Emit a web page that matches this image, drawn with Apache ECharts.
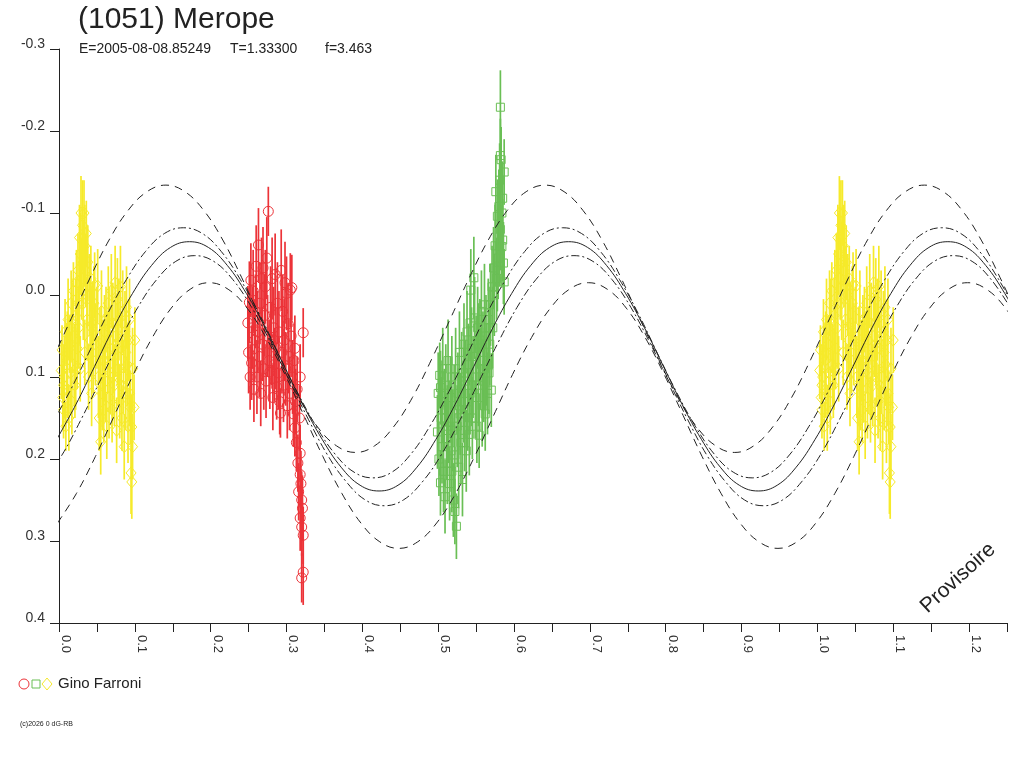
<!DOCTYPE html>
<html>
<head>
<meta charset="utf-8">
<title>(1051) Merope</title>
<script src="https://cdn.jsdelivr.net/npm/echarts@6/dist/echarts.min.js"></script>
<style>
  html, body { margin: 0; padding: 0; background: #fff; }
  #chart { width: 1024px; height: 768px; }
</style>
</head>
<body>
<div id="chart"></div>
<script>
// observations: [phase, magnitude, error]
const redObs = [
  [0.249, 0.034, 0.045], [0.250, 0.070, 0.05], [0.251, 0.009, 0.05], [0.252, 0.100, 0.04],
  [0.253, -0.018, 0.045], [0.254, 0.083, 0.045], [0.255, 0.040, 0.05], [0.256, -0.005, 0.05],
  [0.257, 0.115, 0.04], [0.258, 0.055, 0.05], [0.259, 0.020, 0.045], [0.260, -0.035, 0.05],
  [0.261, 0.100, 0.045], [0.262, 0.045, 0.05], [0.263, -0.061, 0.045], [0.264, 0.075, 0.05],
  [0.265, 0.010, 0.05], [0.266, 0.120, 0.04], [0.267, -0.020, 0.05], [0.268, 0.060, 0.045],
  [0.269, -0.033, 0.05], [0.270, 0.090, 0.05], [0.271, 0.025, 0.05], [0.272, -0.010, 0.045],
  [0.273, 0.105, 0.045], [0.274, -0.045, 0.05], [0.275, 0.050, 0.05], [0.276, -0.102, 0.03],
  [0.277, 0.080, 0.05], [0.278, 0.094, 0.045], [0.279, 0.015, 0.05], [0.280, 0.060, 0.05],
  [0.281, -0.020, 0.05], [0.282, 0.125, 0.04], [0.283, 0.040, 0.05], [0.284, 0.085, 0.045],
  [0.285, -0.025, 0.05], [0.286, 0.065, 0.05], [0.287, 0.112, 0.04], [0.288, 0.010, 0.05],
  [0.289, 0.095, 0.045], [0.290, 0.045, 0.05], [0.291, 0.130, 0.04], [0.292, 0.144, 0.03],
  [0.293, -0.030, 0.05], [0.294, 0.070, 0.05], [0.295, 0.020, 0.045], [0.296, 0.110, 0.045],
  [0.297, 0.055, 0.05], [0.298, -0.015, 0.05], [0.299, 0.090, 0.045], [0.300, -0.002, 0.045],
  [0.301, 0.135, 0.04], [0.302, 0.035, 0.05], [0.303, 0.075, 0.045], [0.304, 0.120, 0.045],
  [0.305, -0.006, 0.045], [0.306, 0.050, 0.05], [0.307, -0.009, 0.04], [0.308, 0.100, 0.045],
  [0.309, 0.145, 0.04], [0.310, 0.080, 0.045], [0.311, 0.065, 0.04], [0.311, 0.162, 0.035],
  [0.312, 0.130, 0.04], [0.313, 0.180, 0.035], [0.314, 0.115, 0.04], [0.315, 0.205, 0.035],
  [0.316, 0.240, 0.035], [0.317, 0.150, 0.04], [0.318, 0.100, 0.04], [0.318, 0.193, 0.035],
  [0.318, 0.219, 0.04], [0.318, 0.272, 0.04], [0.319, 0.230, 0.04], [0.320, 0.250, 0.035],
  [0.320, 0.283, 0.035], [0.320, 0.345, 0.03], [0.321, 0.260, 0.04], [0.322, 0.046, 0.03],
  [0.322, 0.293, 0.035], [0.322, 0.338, 0.04]
];

const greenObs = [
  [0.499, 0.167, 0.045], [0.500, 0.120, 0.05], [0.501, 0.200, 0.045], [0.502, 0.098, 0.04],
  [0.503, 0.113, 0.045], [0.503, 0.229, 0.04], [0.504, 0.150, 0.05], [0.505, 0.185, 0.045],
  [0.506, 0.090, 0.05], [0.507, 0.215, 0.05], [0.508, 0.140, 0.05], [0.509, 0.246, 0.045],
  [0.510, 0.110, 0.05], [0.511, 0.175, 0.05], [0.512, 0.205, 0.05], [0.513, 0.080, 0.05],
  [0.514, 0.155, 0.05], [0.515, 0.230, 0.045], [0.516, 0.125, 0.05], [0.517, 0.190, 0.05],
  [0.518, 0.100, 0.05], [0.519, 0.165, 0.05], [0.520, 0.250, 0.045], [0.521, 0.135, 0.05],
  [0.522, 0.264, 0.04], [0.522, 0.195, 0.05], [0.523, 0.090, 0.05], [0.524, 0.282, 0.04],
  [0.525, 0.160, 0.05], [0.526, 0.120, 0.05], [0.527, 0.210, 0.05], [0.528, 0.070, 0.05],
  [0.529, 0.145, 0.05], [0.530, 0.180, 0.05], [0.531, 0.095, 0.05], [0.532, 0.225, 0.045],
  [0.533, 0.130, 0.05], [0.534, 0.060, 0.05], [0.535, 0.165, 0.05], [0.536, 0.105, 0.05],
  [0.537, 0.190, 0.05], [0.538, 0.045, 0.05], [0.539, 0.140, 0.05], [0.540, 0.085, 0.05],
  [0.541, 0.170, 0.05], [0.542, 0.034, 0.045], [0.542, 0.120, 0.05], [0.543, -0.006, 0.05],
  [0.544, 0.065, 0.05], [0.545, 0.150, 0.05], [0.546, 0.100, 0.05], [0.547, -0.021, 0.05],
  [0.548, 0.028, 0.05], [0.549, 0.125, 0.05], [0.550, 0.075, 0.05], [0.551, 0.160, 0.045],
  [0.552, 0.040, 0.05], [0.553, 0.110, 0.05], [0.554, 0.171, 0.04], [0.555, 0.055, 0.05],
  [0.556, 0.090, 0.05], [0.557, 0.020, 0.05], [0.558, 0.135, 0.05], [0.559, 0.070, 0.05],
  [0.560, 0.105, 0.05], [0.561, 0.012, 0.05], [0.562, 0.145, 0.045], [0.563, 0.050, 0.05],
  [0.564, 0.085, 0.05], [0.565, 0.120, 0.05], [0.566, 0.030, 0.05], [0.567, 0.095, 0.05],
  [0.568, 0.060, 0.05], [0.569, 0.012, 0.05], [0.570, 0.116, 0.045], [0.571, -0.010, 0.05],
  [0.572, 0.040, 0.05], [0.573, -0.033, 0.05], [0.574, 0.000, 0.05], [0.575, -0.060, 0.05],
  [0.576, -0.126, 0.045], [0.577, -0.020, 0.05], [0.578, -0.096, 0.045], [0.579, -0.045, 0.05],
  [0.580, -0.108, 0.045], [0.581, -0.140, 0.045], [0.582, -0.080, 0.05], [0.582, -0.170, 0.045],
  [0.582, -0.229, 0.045], [0.583, -0.165, 0.04], [0.584, -0.059, 0.05], [0.585, -0.118, 0.045],
  [0.585, -0.067, 0.05], [0.586, -0.039, 0.05], [0.587, -0.016, 0.04], [0.587, -0.150, 0.04],
  [0.505, 0.130, 0.05], [0.512, 0.160, 0.05], [0.518, 0.215, 0.05], [0.527, 0.140, 0.05],
  [0.535, 0.100, 0.05], [0.544, 0.110, 0.05], [0.553, 0.060, 0.05], [0.561, 0.090, 0.05],
  [0.567, 0.040, 0.05], [0.578, -0.030, 0.05], [0.584, -0.100, 0.05], [0.581, -0.060, 0.05]
];

const yellowObs = [
  [0.003, 0.092, 0.035], [0.004, 0.067, 0.03], [0.005, 0.125, 0.04], [0.006, 0.140, 0.035],
  [0.007, 0.100, 0.05], [0.008, 0.045, 0.04], [0.009, 0.160, 0.03], [0.010, 0.080, 0.045],
  [0.011, 0.115, 0.035], [0.012, 0.030, 0.05], [0.013, 0.150, 0.04], [0.014, 0.060, 0.035],
  [0.015, 0.095, 0.05], [0.016, 0.010, 0.04], [0.017, 0.130, 0.04], [0.018, 0.050, 0.045],
  [0.019, -0.005, 0.035], [0.020, 0.085, 0.05], [0.021, 0.110, 0.04], [0.022, 0.025, 0.045],
  [0.023, -0.015, 0.04], [0.024, 0.065, 0.05], [0.025, -0.030, 0.045], [0.026, 0.040, 0.05],
  [0.027, -0.070, 0.04], [0.028, -0.050, 0.05], [0.028, 0.090, 0.04], [0.029, -0.100, 0.045],
  [0.030, -0.020, 0.05], [0.031, -0.085, 0.055], [0.032, 0.010, 0.045], [0.033, -0.100, 0.04],
  [0.034, -0.060, 0.05], [0.034, 0.070, 0.04], [0.035, -0.030, 0.045], [0.036, -0.075, 0.04],
  [0.037, 0.030, 0.05], [0.038, -0.040, 0.045], [0.039, 0.100, 0.04], [0.040, 0.000, 0.05],
  [0.041, 0.055, 0.045], [0.042, -0.020, 0.04], [0.043, 0.120, 0.04], [0.044, 0.035, 0.05],
  [0.045, 0.080, 0.04], [0.046, 0.010, 0.045], [0.047, -0.012, 0.04], [0.048, 0.060, 0.05],
  [0.050, 0.040, 0.05], [0.051, -0.011, 0.045], [0.052, 0.100, 0.05], [0.053, 0.150, 0.04],
  [0.054, 0.060, 0.045], [0.055, 0.179, 0.04], [0.056, 0.020, 0.05], [0.057, 0.120, 0.045],
  [0.058, 0.080, 0.05], [0.059, 0.140, 0.04], [0.060, 0.045, 0.045], [0.061, 0.105, 0.05],
  [0.062, 0.030, 0.04], [0.063, 0.160, 0.04], [0.064, 0.070, 0.05], [0.065, 0.010, 0.045],
  [0.066, 0.125, 0.05], [0.067, 0.055, 0.04], [0.068, 0.095, 0.05], [0.069, -0.005, 0.045],
  [0.070, 0.140, 0.04], [0.071, 0.035, 0.05], [0.072, 0.075, 0.045], [0.073, 0.110, 0.05],
  [0.074, -0.015, 0.045], [0.075, 0.050, 0.05], [0.076, 0.165, 0.04], [0.077, 0.005, 0.05],
  [0.078, 0.090, 0.045], [0.079, 0.030, 0.05], [0.080, 0.130, 0.045], [0.081, -0.010, 0.05],
  [0.082, 0.065, 0.045], [0.083, 0.150, 0.04], [0.084, 0.020, 0.05], [0.085, 0.100, 0.045],
  [0.086, 0.185, 0.04], [0.087, 0.045, 0.05], [0.088, 0.120, 0.045], [0.089, 0.015, 0.05],
  [0.090, 0.085, 0.05], [0.091, 0.160, 0.045], [0.092, 0.055, 0.05], [0.093, 0.120, 0.04],
  [0.094, 0.137, 0.045], [0.095, 0.217, 0.05], [0.096, 0.161, 0.04], [0.096, 0.228, 0.045],
  [0.097, 0.090, 0.05], [0.097, 0.185, 0.04], [0.099, 0.137, 0.04], [0.100, 0.055, 0.04],
  [0.006, 0.110, 0.05], [0.011, 0.070, 0.05], [0.017, 0.030, 0.05], [0.022, 0.090, 0.05],
  [0.027, 0.010, 0.05], [0.032, -0.040, 0.05], [0.037, -0.010, 0.05], [0.043, 0.040, 0.05],
  [0.055, 0.110, 0.05], [0.060, 0.080, 0.05], [0.066, 0.040, 0.05], [0.071, 0.100, 0.05],
  [0.077, 0.060, 0.05], [0.082, 0.110, 0.05], [0.088, 0.070, 0.05], [0.093, 0.030, 0.05]
];

// fitted light curve (solid) and its envelopes
const fitX = [-0.003, 0.022, 0.047, 0.072, 0.097, 0.122, 0.147, 0.172, 0.197, 0.222,
  0.247, 0.272, 0.297, 0.322, 0.347, 0.372, 0.397, 0.422, 0.447, 0.472,
  0.497, 0.522, 0.547, 0.572, 0.597, 0.622, 0.647, 0.672, 0.697, 0.722,
  0.747, 0.772, 0.797, 0.822, 0.847, 0.872, 0.897, 0.922, 0.947, 0.972,
  0.997, 1.022, 1.047, 1.072, 1.097, 1.122, 1.147, 1.172, 1.197, 1.222, 1.247, 1.272];
const fitY = [0.176, 0.134, 0.087, 0.040, -0.002, -0.036, -0.058, -0.065, -0.058, -0.036,
  -0.002, 0.040, 0.087, 0.134, 0.176, 0.210, 0.232, 0.239, 0.232, 0.210,
  0.176, 0.134, 0.087, 0.040, -0.002, -0.036, -0.058, -0.065, -0.058, -0.036,
  -0.002, 0.040, 0.087, 0.134, 0.176, 0.210, 0.232, 0.239, 0.232, 0.210,
  0.176, 0.134, 0.087, 0.040, -0.002, -0.036, -0.058, -0.065, -0.058, -0.036, -0.002, 0.040];

const upDashX = [-0.009, 0.016, 0.041, 0.066, 0.091, 0.116, 0.141, 0.166, 0.191, 0.216,
  0.241, 0.266, 0.291, 0.316, 0.341, 0.366, 0.391, 0.416, 0.441, 0.466,
  0.491, 0.516, 0.541, 0.566, 0.591, 0.616, 0.641, 0.666, 0.691, 0.716,
  0.741, 0.766, 0.791, 0.816, 0.841, 0.866, 0.891, 0.916, 0.941, 0.966,
  0.991, 1.016, 1.041, 1.066, 1.091, 1.116, 1.141, 1.166, 1.191, 1.216, 1.241, 1.266];
const upDashY = [0.079, 0.029, -0.021, -0.067, -0.103, -0.126, -0.134, -0.126, -0.103, -0.067,
  -0.021, 0.029, 0.079, 0.125, 0.161, 0.184, 0.192, 0.184, 0.161, 0.125,
  0.079, 0.029, -0.021, -0.067, -0.103, -0.126, -0.134, -0.126, -0.103, -0.067,
  -0.021, 0.029, 0.079, 0.125, 0.161, 0.184, 0.192, 0.184, 0.161, 0.125,
  0.079, 0.029, -0.021, -0.067, -0.103, -0.126, -0.134, -0.126, -0.103, -0.067, -0.021, 0.029];

const upDotX = [-0.011, 0.014, 0.039, 0.064, 0.089, 0.114, 0.139, 0.164, 0.189, 0.214,
  0.239, 0.264, 0.289, 0.314, 0.339, 0.364, 0.389, 0.414, 0.439, 0.464,
  0.489, 0.514, 0.539, 0.564, 0.589, 0.614, 0.639, 0.664, 0.689, 0.714,
  0.739, 0.764, 0.789, 0.814, 0.839, 0.864, 0.889, 0.914, 0.939, 0.964,
  0.989, 1.014, 1.039, 1.064, 1.089, 1.114, 1.139, 1.164, 1.189, 1.214, 1.239, 1.264];
const upDotY = [0.160, 0.118, 0.071, 0.023, -0.019, -0.053, -0.075, -0.082, -0.075, -0.053,
  -0.019, 0.023, 0.071, 0.118, 0.160, 0.194, 0.216, 0.223, 0.216, 0.194,
  0.160, 0.118, 0.071, 0.023, -0.019, -0.053, -0.075, -0.082, -0.075, -0.053,
  -0.019, 0.023, 0.071, 0.118, 0.160, 0.194, 0.216, 0.223, 0.216, 0.194,
  0.160, 0.118, 0.071, 0.023, -0.019, -0.053, -0.075, -0.082, -0.075, -0.053, -0.019, 0.023];

const lowDotX = [-0.021, 0.004, 0.029, 0.054, 0.079, 0.104, 0.129, 0.154, 0.179, 0.204,
  0.229, 0.254, 0.279, 0.304, 0.329, 0.354, 0.379, 0.404, 0.429, 0.454,
  0.479, 0.504, 0.529, 0.554, 0.579, 0.604, 0.629, 0.654, 0.679, 0.704,
  0.729, 0.754, 0.779, 0.804, 0.829, 0.854, 0.879, 0.904, 0.929, 0.954,
  0.979, 1.004, 1.029, 1.054, 1.079, 1.104, 1.129, 1.154, 1.179, 1.204, 1.229, 1.254];
const lowDotY = [0.228, 0.195, 0.152, 0.105, 0.058, 0.015, -0.019, -0.041, -0.048, -0.041,
  -0.019, 0.015, 0.058, 0.105, 0.152, 0.195, 0.228, 0.250, 0.257, 0.250,
  0.228, 0.195, 0.152, 0.105, 0.058, 0.015, -0.019, -0.041, -0.048, -0.041,
  -0.019, 0.015, 0.058, 0.105, 0.152, 0.195, 0.228, 0.250, 0.257, 0.250,
  0.228, 0.195, 0.152, 0.105, 0.058, 0.015, -0.019, -0.041, -0.048, -0.041, -0.019, 0.015];

const lowDashX = [-0.002, 0.023, 0.048, 0.073, 0.098, 0.123, 0.148, 0.173, 0.198, 0.223,
  0.248, 0.273, 0.298, 0.323, 0.348, 0.373, 0.398, 0.423, 0.448, 0.473,
  0.498, 0.523, 0.548, 0.573, 0.598, 0.623, 0.648, 0.673, 0.698, 0.723,
  0.748, 0.773, 0.798, 0.823, 0.848, 0.873, 0.898, 0.923, 0.948, 0.973,
  0.998, 1.023, 1.048, 1.073, 1.098, 1.123, 1.148, 1.173, 1.198, 1.223, 1.248, 1.273];
const lowDashY = [0.278, 0.242, 0.197, 0.147, 0.097, 0.052, 0.016, -0.007, -0.015, -0.007,
  0.016, 0.052, 0.097, 0.147, 0.197, 0.242, 0.278, 0.301, 0.309, 0.301,
  0.278, 0.242, 0.197, 0.147, 0.097, 0.052, 0.016, -0.007, -0.015, -0.007,
  0.016, 0.052, 0.097, 0.147, 0.197, 0.242, 0.278, 0.301, 0.309, 0.301,
  0.278, 0.242, 0.197, 0.147, 0.097, 0.052, 0.016, -0.007, -0.015, -0.007, 0.016, 0.052];

const RED = '#ec3338';
const GREEN = '#6abf55';
const YELLOW = '#f6ea2a';
const INK = '#222';
const FONT = '"Liberation Sans", Arial, sans-serif';

// the first part of the cycle (yellow run) is shown again one cycle later
function withRepeat(obs) {
  return obs.concat(obs.filter(d => d[0] < 0.2).map(d => [d[0] + 1, d[1], d[2]]));
}

function markerShape(kind, x, y, color) {
  const style = { fill: 'none', stroke: color, lineWidth: 1 };
  if (kind === 'circle') return { type: 'circle', shape: { cx: x, cy: y, r: 5 }, style };
  if (kind === 'square') return { type: 'rect', shape: { x: x - 4, y: y - 4, width: 8, height: 8 }, style };
  return { type: 'polygon', shape: { points: [[x, y - 6], [x + 5, y], [x, y + 6], [x - 5, y]] }, style };
}

function obsSeries(name, obs, kind, color) {
  return {
    type: 'custom',
    name,
    data: withRepeat(obs),
    encode: { x: 0, y: 1 },
    z: 2,
    renderItem: (params, api) => {
      const ph = api.value(0), mag = api.value(1), err = api.value(2);
      const c = api.coord([ph, mag]);
      const top = api.coord([ph, mag - err]);
      const bot = api.coord([ph, mag + err]);
      return {
        type: 'group',
        children: [
          { type: 'line', shape: { x1: c[0], y1: top[1], x2: c[0], y2: bot[1] },
            style: { stroke: color, lineWidth: 1.7 } },
          markerShape(kind, c[0], c[1], color)
        ]
      };
    }
  };
}

function curveSeries(xs, ys, dash) {
  return {
    type: 'line',
    data: xs.map((x, i) => [x, ys[i]]),
    smooth: 0.4,
    showSymbol: false,
    silent: true,
    z: 3,
    lineStyle: { color: INK, width: 1, type: dash }
  };
}

const chart = echarts.init(document.getElementById('chart'));
chart.setOption({
  animation: false,
  backgroundColor: '#fff',
  grid: { left: 59, top: 49, right: 17, bottom: 145 },
  xAxis: {
    type: 'value', min: 0, max: 1.25, interval: 0.05,
    splitLine: { show: false },
    axisLine: { onZero: false, lineStyle: { color: INK } },
    axisTick: { length: 9, lineStyle: { color: INK } },
    axisLabel: {
      rotate: -90, margin: 12, color: '#333', fontSize: 13, fontFamily: FONT,
      verticalAlign: 'bottom',
      formatter: v => (Math.round(v * 100) % 10 === 0 ? v.toFixed(1) : '')
    }
  },
  yAxis: {
    type: 'value', inverse: true, min: -0.3, max: 0.4, interval: 0.1,
    splitLine: { show: false },
    axisLine: { show: true, onZero: false, lineStyle: { color: INK } },
    axisTick: { length: 9, lineStyle: { color: INK } },
    axisLabel: {
      margin: 14, color: '#333', fontSize: 14, fontFamily: FONT,
      verticalAlign: 'bottom', lineHeight: 10,
      formatter: v => (Math.abs(v) < 1e-9 ? '0.0' : v.toFixed(1))
    }
  },
  series: [
    obsSeries('yellow', yellowObs, 'diamond', YELLOW),
    obsSeries('red', redObs, 'circle', RED),
    obsSeries('green', greenObs, 'square', GREEN),
    curveSeries(upDashX, upDashY, [8, 6]),
    curveSeries(upDotX, upDotY, [8, 3, 2, 3]),
    curveSeries(fitX, fitY, 'solid'),
    curveSeries(lowDotX, lowDotY, [8, 3, 2, 3]),
    curveSeries(lowDashX, lowDashY, [8, 6])
  ],
  graphic: [
    { type: 'text', left: 78, top: 5,
      style: { text: '(1051) Merope', fontSize: 30, fontFamily: FONT, fill: '#222' } },
    { type: 'text', left: 79, top: 42,
      style: { text: 'E=2005-08-08.85249', fontSize: 14, fontFamily: FONT, fill: '#222' } },
    { type: 'text', left: 230, top: 42,
      style: { text: 'T=1.33300', fontSize: 14, fontFamily: FONT, fill: '#222' } },
    { type: 'text', left: 325, top: 42,
      style: { text: 'f=3.463', fontSize: 14, fontFamily: FONT, fill: '#222' } },
    { type: 'text', x: 958, y: 578, rotation: 0.74,
      style: { text: 'Provisoire', fontSize: 21, fontFamily: FONT, fill: '#222',
               align: 'center', verticalAlign: 'middle' } },
    // legend
    { type: 'circle', shape: { cx: 24, cy: 684, r: 5 }, style: { fill: 'none', stroke: RED } },
    { type: 'rect', shape: { x: 32, y: 680, width: 8, height: 8 }, style: { fill: 'none', stroke: GREEN } },
    { type: 'polygon', shape: { points: [[47, 678], [52, 684], [47, 690], [42, 684]] },
      style: { fill: 'none', stroke: YELLOW } },
    { type: 'text', x: 58, y: 684,
      style: { text: 'Gino Farroni', fontSize: 15, fontFamily: FONT, fill: '#222', verticalAlign: 'middle' } },
    { type: 'text', x: 20, y: 724,
      style: { text: '(c)2026 0 dG-RB', fontSize: 7, fontFamily: FONT, fill: '#222', verticalAlign: 'middle' } }
  ]
});
</script>
</body>
</html>
